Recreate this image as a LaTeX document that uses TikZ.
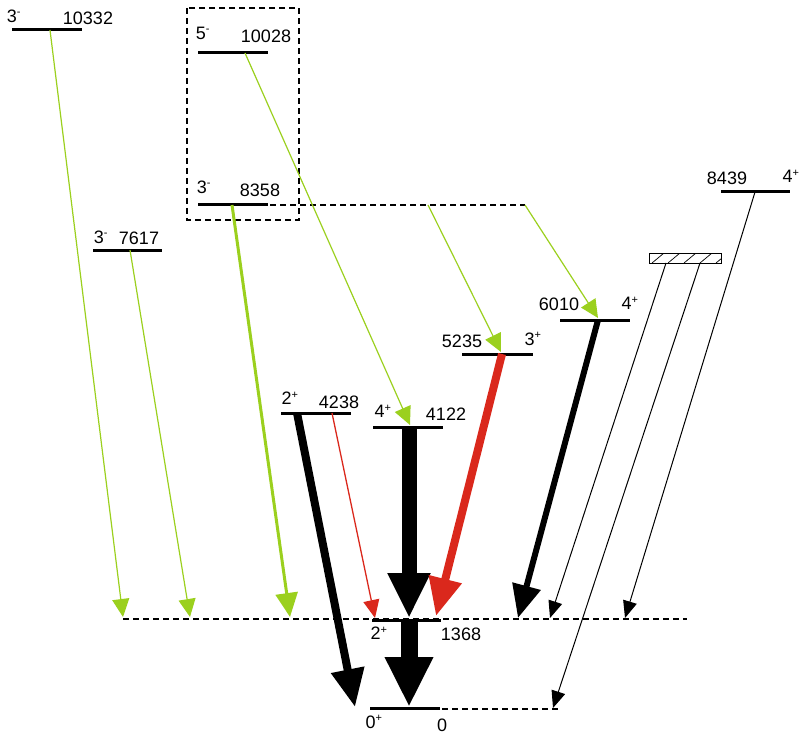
\documentclass[tikz,border=0pt]{standalone}
\usepackage{fontspec}
\setmainfont{Liberation Sans}
\usetikzlibrary{arrows.meta}
\definecolor{gline}{RGB}{155,208,30}
\definecolor{rline}{RGB}{218,40,28}
\tikzset{
  level/.style={line width=3pt},
  lbl/.style={inner sep=0pt, font=\fontsize{18}{20}\selectfont},
  guide/.style={line width=1.1pt, dash pattern=on 6pt off 4pt},
  gthin/.style={gline, line width=1.2pt, -{Triangle[length=18pt,width=17pt]}},
  gthick/.style={gline, line width=3pt, -{Triangle[length=24pt,width=22pt]}},
  kthin/.style={black, line width=1pt, -{Triangle[length=17pt,width=14pt]}},
  rthin/.style={rline, line width=1.3pt, -{Triangle[length=18pt,width=16pt]}},
}
\newcommand{\spin}[2]{#1\textsuperscript{\fontsize{11}{12}\selectfont #2}}
\begin{document}
\begin{tikzpicture}[x=1pt,y=-1pt]
\useasboundingbox (0,0) rectangle (802,735);

% levels
\draw[level] (12,30) -- (82,30);
\draw[level] (198,53) -- (268,53);
\draw[level] (198,205) -- (268,205);
\draw[level] (93,250) -- (162,250);
\draw[level] (721,192) -- (790,192);
\draw[level] (560,320) -- (630,320);
\draw[level] (462,354) -- (533,354);
\draw[level] (281,413) -- (351,413);
\draw[level] (373,427) -- (443,427);
\draw[level] (372,620) -- (441,620);
\draw[level] (370,708) -- (440,708);

% dashed guides
\draw[guide] (187,8) rectangle (299,220);
\draw[guide] (270,205) -- (525,205);
\draw[guide] (123,619) -- (687,619);
\draw[guide] (442,709) -- (558,709);

% hatched box
\begin{scope}
\clip (649,253) rectangle (721,263);
\foreach \h in {636,652,668,684,700,716}
  \draw[line width=0.7pt] (\h,263) -- (\h+12,253);
\end{scope}
\draw[line width=1pt] (649,253) rectangle (721,263);

% arrow end points
\coordinate (s10332) at (50,30);
\coordinate (s7617) at (130,250);
\coordinate (s8358) at (232,205);
\coordinate (s10028) at (245,53);
\coordinate (sx1) at (428,205);
\coordinate (sx2) at (525,205);
\coordinate (s4238a) at (297,413);
\coordinate (s4238b) at (332,413);
\coordinate (s4122) at (409,427);
\coordinate (s1368) at (409,621);
\coordinate (s6010) at (598,320);
\coordinate (s5235) at (502,354);
\coordinate (sh1) at (666,263);
\coordinate (sh2) at (700,263);
\coordinate (s8439) at (755,192);
\coordinate (e1) at (123,617);
\coordinate (e2) at (190,617);
\coordinate (e3) at (290,617);
\coordinate (e4122) at (410,425);
\coordinate (e5235) at (501,352);
\coordinate (e6010) at (598,318);
\coordinate (f1) at (355,707);
\coordinate (f2) at (409,618);
\coordinate (f3) at (409,707);
\coordinate (f4) at (518,618);
\coordinate (f5) at (436,616);
\coordinate (f6) at (375,618);
\coordinate (f7) at (550,618);
\coordinate (f8) at (553,708);
\coordinate (f9) at (625,618);

% transitions
\draw[gthin] (s10332) -- (e1);
\draw[gthin] (s7617) -- (e2);
\draw[gthick] (s8358) -- (e3);
\draw[gthin] (s10028) -- (e4122);
\draw[gthin] (sx1) -- (e5235);
\draw[gthin] (sx2) -- (e6010);
\draw[line width=8pt, -{Triangle[length=38pt,width=32pt]}] (s4238a) -- (f1);
\draw[line width=15pt, -{Triangle[length=45pt,width=40pt]}] (s4122) -- (f2);
\draw[line width=17pt, -{Triangle[length=50pt,width=45pt]}] (s1368) -- (f3);
\draw[line width=6pt, -{Triangle[length=33pt,width=28pt]}] (s6010) -- (f4);
\draw[rline, line width=8pt, -{Triangle[length=38pt,width=32pt]}] (s5235) -- (f5);
\draw[rthin] (s4238b) -- (f6);
\draw[kthin] (sh1) -- (f7);
\draw[kthin] (sh2) -- (f8);
\draw[kthin] (s8439) -- (f9);

% labels
\node[lbl] (j10332) at (14,16) {\spin{3}{-}};
\node[lbl] (n10332) at (88,18) {10332};
\node[lbl] (j10028) at (203,33) {\spin{5}{-}};
\node[lbl] (n10028) at (266,36) {10028};
\node[lbl] (j8358) at (204,187) {\spin{3}{-}};
\node[lbl] (n8358) at (260,190) {8358};
\node[lbl] (j7617) at (101,237) {\spin{3}{-}};
\node[lbl] (n7617) at (139,238) {7617};
\node[lbl] (n8439) at (727,178) {8439};
\node[lbl] (j8439) at (791,176) {\spin{4}{+}};
\node[lbl] (n6010) at (559,304) {6010};
\node[lbl] (j6010) at (630,303) {\spin{4}{+}};
\node[lbl] (n5235) at (462,341) {5235};
\node[lbl] (j5235) at (533,339) {\spin{3}{+}};
\node[lbl] (j4238) at (290,398) {\spin{2}{+}};
\node[lbl] (n4238) at (339,402) {4238};
\node[lbl] (j4122) at (383,411) {\spin{4}{+}};
\node[lbl] (n4122) at (446,414) {4122};
\node[lbl] (j1368) at (379,633) {\spin{2}{+}};
\node[lbl] (n1368) at (461,634) {1368};
\node[lbl] (j0) at (374,722) {\spin{0}{+}};
\node[lbl] (n0) at (442,725) {0};
\end{tikzpicture}
\end{document}
